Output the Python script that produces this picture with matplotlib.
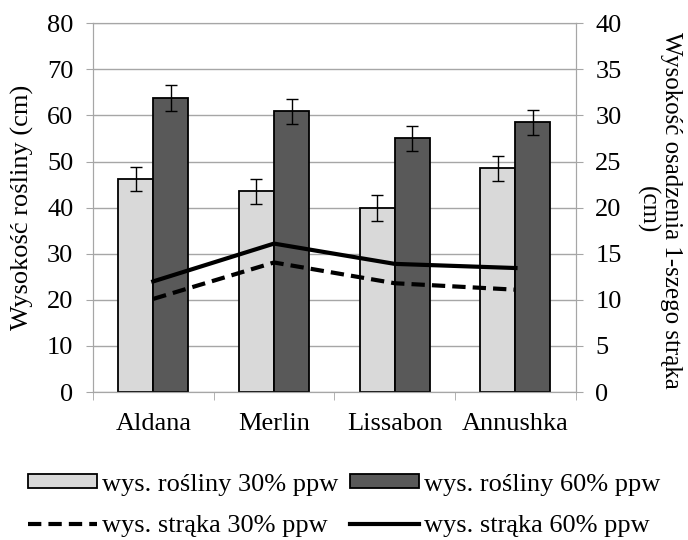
import matplotlib.pyplot as plt
import numpy as np
from matplotlib.patches import Patch
from matplotlib.lines import Line2D

plt.rcParams['font.family'] = ['Liberation Serif', 'DejaVu Serif']

odmiany = ['Aldana', 'Merlin', 'Lissabon', 'Annushka']
roslina_30 = [46.2, 43.5, 40.0, 48.5]
roslina_60 = [63.8, 60.9, 55.0, 58.5]
err_30 = [2.7, 2.8, 2.8, 2.75]
err_60 = [2.8, 2.7, 2.75, 2.75]
straka_30 = [10.1, 14.05, 11.8, 11.1]
straka_60 = [12.0, 16.1, 13.9, 13.45]

GRAY = '#a6a6a6'
FS = 19
DASH = (0, (3.2, 1.7))

fig = plt.figure(figsize=(6.88, 5.4), dpi=100)
ax = fig.add_axes([0.135, 0.274, 0.702, 0.683])

x = np.arange(len(odmiany))
w = 0.29
ax.bar(x - w / 2, roslina_30, w, color='#d9d9d9', edgecolor='black', linewidth=1.3,
       yerr=err_30, capsize=4.5, error_kw=dict(elinewidth=1, capthick=1, ecolor='black'))
ax.bar(x + w / 2, roslina_60, w, color='#595959', edgecolor='black', linewidth=1.3,
       yerr=err_60, capsize=4.5, error_kw=dict(elinewidth=1, capthick=1, ecolor='black'))

ax.set_xlim(-0.5, 3.5)
ax.set_ylim(0, 80)
ax.set_yticks(range(0, 81, 10))
ax.grid(axis='y', color=GRAY, linewidth=1)
ax.set_axisbelow(True)
ax.set_xticks(x)
ax.set_xticklabels(odmiany)
ax.set_xticks(np.arange(-0.5, 4, 1), minor=True)
ax.tick_params(axis='x', which='major', length=0, labelsize=FS, pad=15)
ax.tick_params(axis='x', which='minor', length=6, color=GRAY, direction='out')
ax.tick_params(axis='y', length=5, color=GRAY, labelsize=FS, pad=9)
for s in ax.spines.values():
    s.set_color(GRAY)

ax2 = ax.twinx()
ax2.plot(x, straka_30, color='black', linewidth=3, linestyle=DASH)
ax2.plot(x, straka_60, color='black', linewidth=3)
ax2.set_ylim(0, 40)
ax2.set_yticks(range(0, 41, 5))
ax2.tick_params(axis='y', length=5, color=GRAY, labelsize=FS, pad=9)
for s in ax2.spines.values():
    s.set_color(GRAY)

fig.text(22 / 688, 1 - 207 / 540, 'Wysokość rośliny (cm)', fontsize=FS,
         rotation=90, ha='center', va='center')
fig.text(659 / 688, 1 - 210 / 540, 'Wysokość osadzenia 1-szego strąka\n(cm)',
         fontsize=18, rotation=270, ha='center', va='center',
         multialignment='center', linespacing=1.1)

handles = [
    Patch(facecolor='#d9d9d9', edgecolor='black', linewidth=1.3),
    Line2D([], [], color='black', linewidth=3, linestyle=DASH),
    Patch(facecolor='#595959', edgecolor='black', linewidth=1.3),
    Line2D([], [], color='black', linewidth=3),
]
labels = ['wys. rośliny 30% ppw', 'wys. strąka 30% ppw',
          'wys. rośliny 60% ppw', 'wys. strąka 60% ppw']
fig.legend(handles, labels, ncol=2, loc='lower center', bbox_to_anchor=(0.5, 0.0),
           frameon=False, fontsize=FS, handlelength=2.6, handleheight=0.45,
           handletextpad=0.2, columnspacing=0.45, labelspacing=0.75,
           borderpad=0.1, borderaxespad=0.0)

fig.savefig('out.png', dpi=100)
